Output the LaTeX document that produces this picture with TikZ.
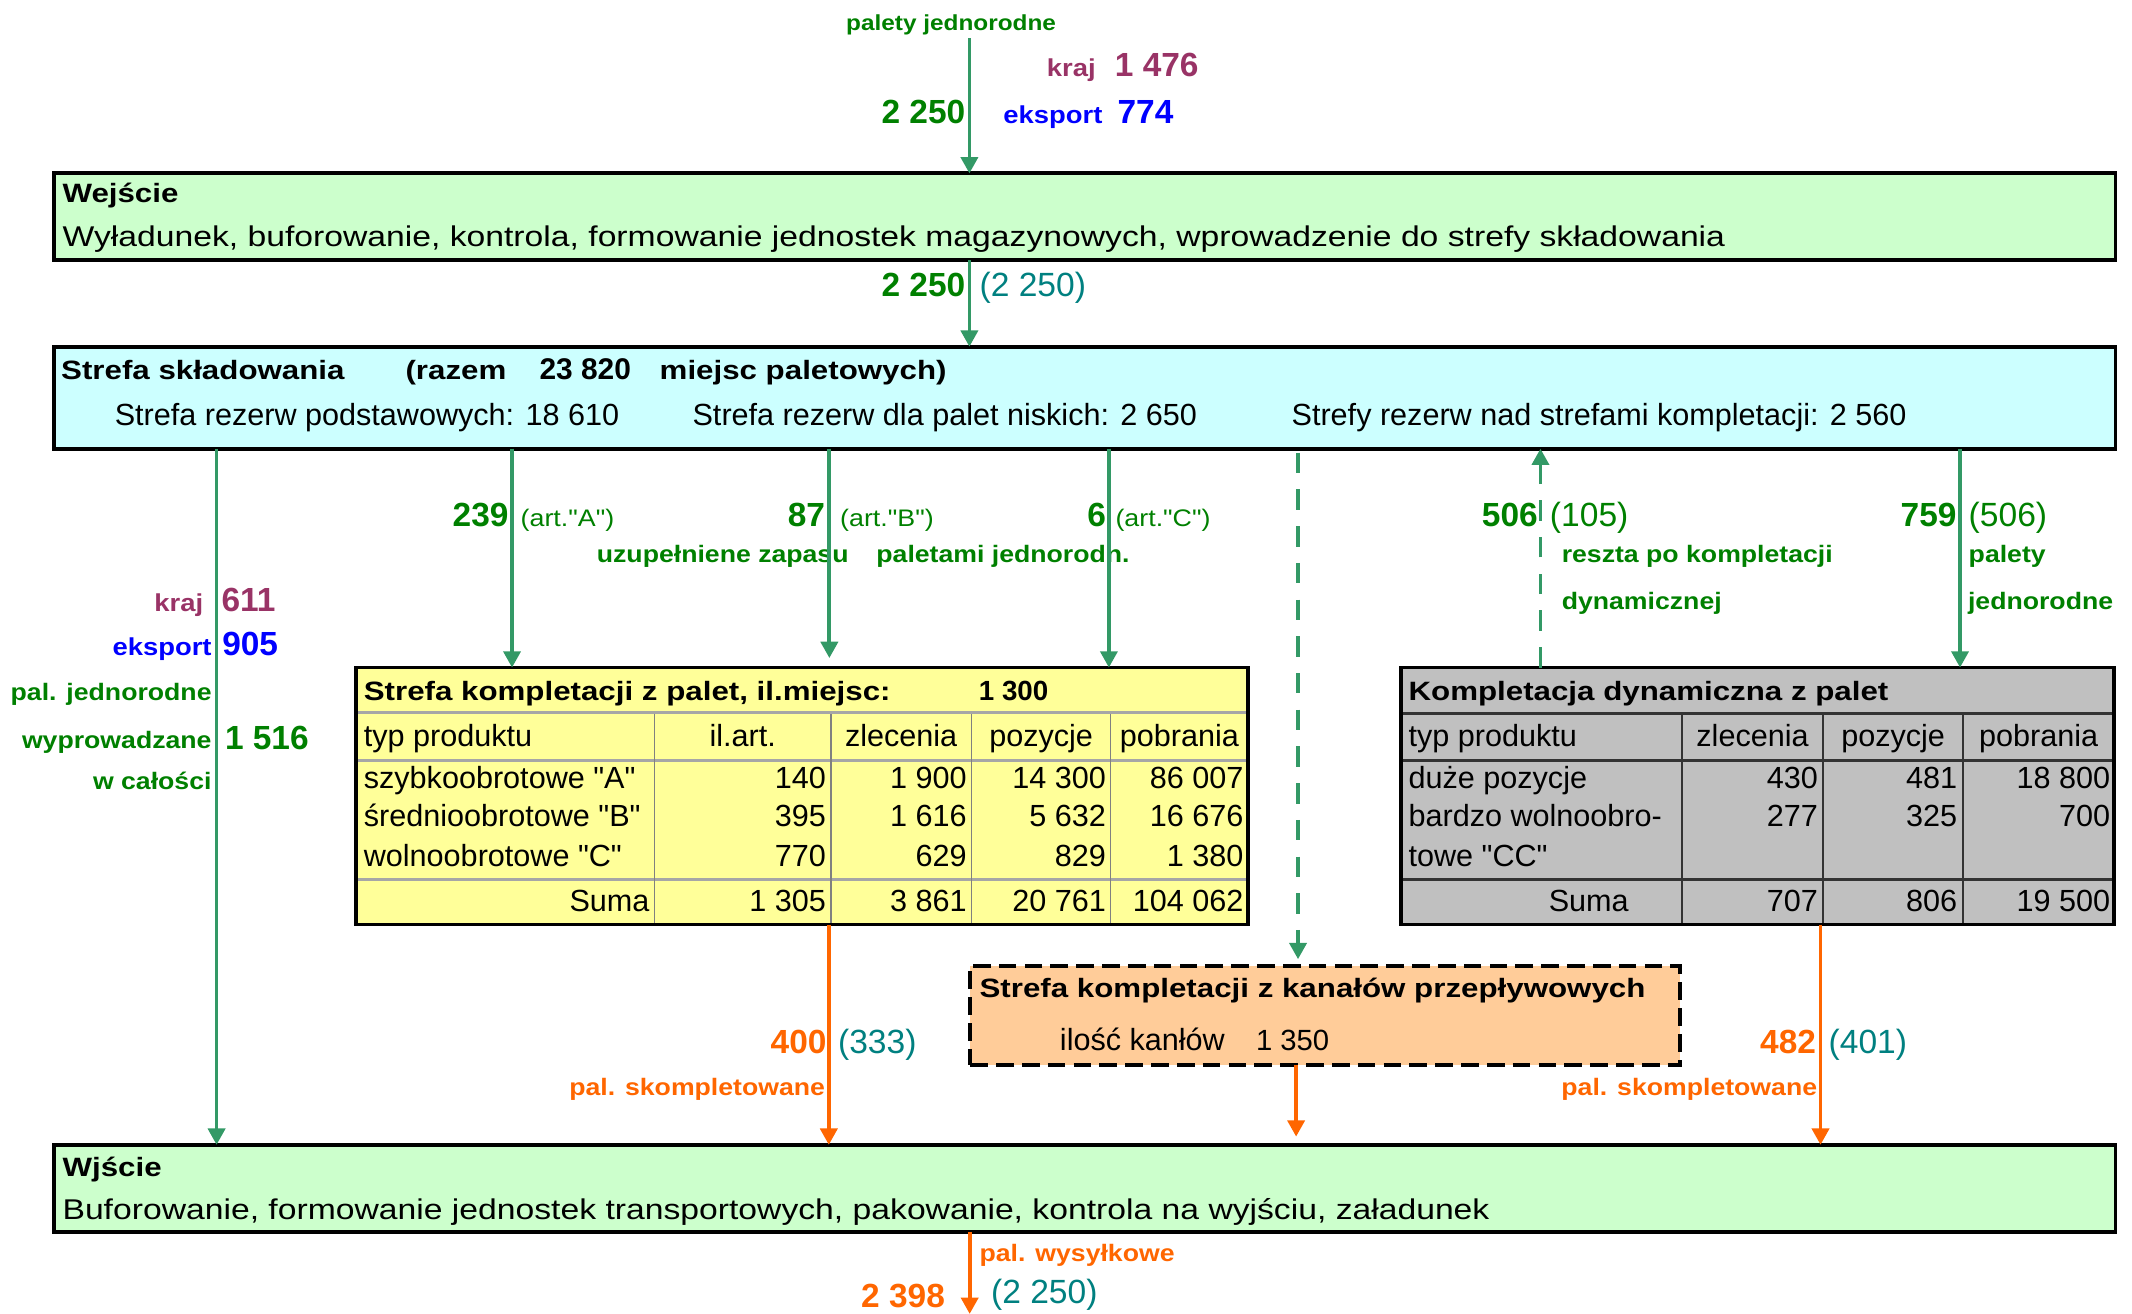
\documentclass[tikz,border=0pt]{standalone}
\usepackage{fontspec}
\setmainfont{Liberation Sans}[Ligatures=TeXOff]
\newfontfamily\stA{Liberation Sans}[FakeStretch=1.18,Ligatures=TeXOff]
\newfontfamily\stB{Liberation Sans}[FakeStretch=1.12,Ligatures=TeXOff]
\usetikzlibrary{arrows.meta}
\definecolor{tgreen}{HTML}{008000}
\definecolor{agreen}{HTML}{339966}
\definecolor{myMaroon}{HTML}{993366}
\definecolor{tblue}{HTML}{0000FF}
\definecolor{tteal}{HTML}{008080}
\definecolor{torange}{HTML}{FF6600}
\definecolor{fgreen}{HTML}{CCFFCC}
\definecolor{fcyan}{HTML}{CCFFFF}
\definecolor{fyellow}{HTML}{FFFF99}
\definecolor{fgray}{HTML}{C0C0C0}
\definecolor{fpeach}{HTML}{FFCC99}
\newcommand\fsTitle{\stA\bfseries\fontsize{19.5}{23}\selectfont}
\newcommand\fsBox{\stA\fontsize{21}{25}\selectfont}
\newcommand\fsReg{\fontsize{22.5}{27}\selectfont}
\newcommand\fsLab{\stB\bfseries\fontsize{17.5}{21}\selectfont}
\newcommand\fsLabTop{\stB\bfseries\fontsize{16}{19}\selectfont}
\newcommand\fsKE{\stB\bfseries\fontsize{18}{21}\selectfont}
\newcommand\fsNum{\bfseries\fontsize{24.6}{29}\selectfont}
\newcommand\fsPar{\fontsize{24.7}{29}\selectfont}
\newcommand\fsArt{\stB\fontsize{17.6}{21}\selectfont}
\newcommand\fsBnum{\bfseries\fontsize{20.4}{24}\selectfont}
\newcommand\fsBnumB{\bfseries\fontsize{22}{26}\selectfont}
\newcommand\fsRegS{\fontsize{21.5}{26}\selectfont}
\begin{document}
\begin{tikzpicture}[x=1pt,y=-1pt,
  t/.style={inner sep=0pt,outer sep=0pt},
  bw/.style={t,anchor=base west},
  be/.style={t,anchor=base east},
  bc/.style={t,anchor=base},
  box/.style={draw=black,line width=2.8pt,inner sep=0pt,outer sep=0pt,anchor=north west},
  garrow/.style={draw=agreen,line width=2.8pt,-{Triangle[length=12pt,width=12.5pt]}},
  oarrow/.style={draw=torange,line width=2.8pt,-{Triangle[length=12pt,width=12.5pt]}},
  gdash/.style={dash pattern=on 15pt off 12pt},
  tah/.style={draw=black!35,line width=2.4pt},
  tav/.style={draw=black!50,line width=1.2pt},
  tbh/.style={draw=black!80,line width=2.2pt},
  tbv/.style={draw=black!80,line width=1.6pt}]
\useasboundingbox (0,0) rectangle (1568.1,966.4);

% boxes
\node[box,fill=fgreen,minimum width=1516pt,minimum height=64pt] (wej) at (40,127.5) {};
\node[box,fill=fcyan,minimum width=1516pt,minimum height=75pt] (str) at (40,255) {};
\node[box,fill=fyellow,minimum width=656pt,minimum height=189pt] (tab1) at (262,491) {};
\node[box,fill=fgray,minimum width=524.7pt,minimum height=189pt] (tab2) at (1030.3,491) {};
\node[box,fill=fpeach,dash pattern=on 13pt off 6pt,minimum width=522.1pt,minimum height=72.8pt] (kan) at (713.6,710.5) {};
\node[box,fill=fgreen,minimum width=1516pt,minimum height=64pt] (wyj) at (40,842) {};

% table 1 grid
\draw[tah] (263.5,524) -- (916.5,524);
\draw[tah] (263.5,559.5) -- (916.5,559.5);
\draw[tah] (263.5,646.6) -- (916.5,646.6);
\foreach \xx in {481.5,611,714.6,816.9} \draw[tav] (\xx,525) -- (\xx,678.5);
% table 2 grid
\draw[tbh] (1031.7,524.6) -- (1553.6,524.6);
\draw[tbh] (1031.7,559) -- (1553.6,559);
\draw[tbh] (1031.7,646.6) -- (1553.6,646.6);
\foreach \xx in {1237.1,1341,1443.8} \draw[tbv] (\xx,525.6) -- (\xx,678.5);

% top texts
\node[bc,text=tgreen,font=\fsLabTop] (lPal) at (699.5,22.6) {palety jednorodne};
\node[bw,text=myMaroon,font=\fsKE] (lKraj1) at (770,56.5) {kraj};
\node[bw,text=myMaroon,font=\fsNum] (nKraj1) at (820,56.5) {1 476};
\node[be,text=tgreen,font=\fsNum] (nIn) at (710,91) {2 250};
\node[bw,text=tblue,font=\fsKE] (lEks1) at (738,90.7) {eksport};
\node[bw,text=tblue,font=\fsNum] (nEks1) at (822,90.7) {774};

% Wejscie
\node[bw,font=\fsTitle] (wejT) at (46,149) {Wejście};
\node[bw,font=\fsBox] (wejB) at (46,181.4) {Wyładunek, buforowanie, kontrola, formowanie jednostek magazynowych, wprowadzenie do strefy składowania};
\node[be,text=tgreen,font=\fsNum] (n2) at (710,218.2) {2 250};
\node[bw,text=tteal,font=\fsPar] (p2) at (720.5,218.2) {(2 250)};

% Strefa skladowania
\node[bw,font=\fsTitle] (strT1) at (45,278.8) {Strefa składowania};
\node[bw,font=\fsTitle] (strT2) at (298.3,278.8) {(razem};
\node[bw,font=\fsBnumB] (strT3) at (396.8,278.8) {23 820};
\node[bw,font=\fsTitle] (strT4) at (485.2,278.8) {miejsc paletowych)};
\node[bw,font=\fsReg] (strL1) at (84.4,312.6) {Strefa rezerw podstawowych: 18 610};
\node[bw,font=\fsReg] (strL2) at (509.4,312.6) {Strefa rezerw dla palet niskich: 2 650};
\node[bw,font=\fsReg] (strL3) at (950,312.6) {Strefy rezerw nad strefami kompletacji: 2 560};

% labels below Strefa
\node[be,text=tgreen,font=\fsNum] (nA) at (374,387.4) {239};
\node[bw,text=tgreen,font=\fsArt] (aA) at (383,387.4) {(art."A")};
\node[be,text=tgreen,font=\fsNum] (nB) at (606.8,387.4) {87};
\node[bw,text=tgreen,font=\fsArt] (aB) at (618,387.4) {(art."B")};
\node[be,text=tgreen,font=\fsNum] (nC) at (813.5,387.4) {6};
\node[bw,text=tgreen,font=\fsArt] (aC) at (820.5,387.4) {(art."C")};
\node[bw,text=tgreen,font=\fsLab] (lUzu) at (439,414) {uzupełniene zapasu\hspace{15pt} paletami jednorodn.};
\node[be,text=tgreen,font=\fsNum] (nR) at (1131,387.4) {506};
\node[bw,text=tgreen,font=\fsPar] (pR) at (1140,387.4) {(105)};
\node[bw,text=tgreen,font=\fsLab] (lR1) at (1148.7,414) {reszta po kompletacji};
\node[bw,text=tgreen,font=\fsLab] (lR2) at (1148.7,448) {dynamicznej};
\node[be,text=tgreen,font=\fsNum] (nP) at (1439,387.4) {759};
\node[bw,text=tgreen,font=\fsPar] (pP) at (1448,387.4) {(506)};
\node[bw,text=tgreen,font=\fsLab] (lP1) at (1448,414) {palety};
\node[bw,text=tgreen,font=\fsLab] (lP2) at (1447.5,448) {jednorodne};

% left labels
\node[be,text=myMaroon,font=\fsKE] (lKraj2) at (149.5,450) {kraj};
\node[bw,text=myMaroon,font=\fsNum] (nKraj2) at (163,450) {611};
\node[be,text=tblue,font=\fsKE] (lEks2) at (155.6,482) {eksport};
\node[bw,text=tblue,font=\fsNum] (nEks2) at (163.5,482) {905};
\node[be,text=tgreen,font=\fsLab] (lL1) at (155.6,515.4) {pal. jednorodne};
\node[be,text=tgreen,font=\fsLab] (lL2) at (155.6,550.4) {wyprowadzane};
\node[bw,text=tgreen,font=\fsNum] (nL) at (165.5,551) {1 516};
\node[be,text=tgreen,font=\fsLab] (lL3) at (155.6,581) {w całości};

% table 1 texts
\node[bw,font=\fsTitle] (t1T) at (267.6,514.9) {Strefa kompletacji z palet, il.miejsc:};
\node[bw,font=\fsBnum] (t1N) at (720,514.9) {1 300};
\node[bw,font=\fsReg] (t1h1) at (267.6,549) {typ produktu};
\node[bc,font=\fsReg] (t1h2) at (546.25,549) {il.art.};
\node[bc,font=\fsReg] (t1h3) at (662.8,549) {zlecenia};
\node[bc,font=\fsReg] (t1h4) at (765.75,549) {pozycje};
\node[bc,font=\fsReg] (t1h5) at (867.45,549) {pobrania};
\node[bw,font=\fsReg] (t1a1) at (267.6,579.8) {szybkoobrotowe "A"};
\node[be,font=\fsReg] (t1a2) at (607.5,579.8) {140};
\node[be,font=\fsReg] (t1a3) at (711,579.8) {1 900};
\node[be,font=\fsReg] (t1a4) at (813.4,579.8) {14 300};
\node[be,font=\fsReg] (t1a5) at (914.5,579.8) {86 007};
\node[bw,font=\fsReg] (t1b1) at (267.6,608) {średnioobrotowe "B"};
\node[be,font=\fsReg] (t1b2) at (607.5,608) {395};
\node[be,font=\fsReg] (t1b3) at (711,608) {1 616};
\node[be,font=\fsReg] (t1b4) at (813.4,608) {5 632};
\node[be,font=\fsReg] (t1b5) at (914.5,608) {16 676};
\node[bw,font=\fsReg] (t1c1) at (267.6,637.5) {wolnoobrotowe "C"};
\node[be,font=\fsReg] (t1c2) at (607.5,637.5) {770};
\node[be,font=\fsReg] (t1c3) at (711,637.5) {629};
\node[be,font=\fsReg] (t1c4) at (813.4,637.5) {829};
\node[be,font=\fsReg] (t1c5) at (914.5,637.5) {1 380};
\node[be,font=\fsReg] (t1s1) at (477.7,670.5) {Suma};
\node[be,font=\fsReg] (t1s2) at (607.5,670.5) {1 305};
\node[be,font=\fsReg] (t1s3) at (711,670.5) {3 861};
\node[be,font=\fsReg] (t1s4) at (813.4,670.5) {20 761};
\node[be,font=\fsReg] (t1s5) at (914.5,670.5) {104 062};

% table 2 texts
\node[bw,font=\fsTitle] (t2T) at (1036,514.9) {Kompletacja dynamiczna z palet};
\node[bw,font=\fsReg] (t2h1) at (1036,549) {typ produktu};
\node[bc,font=\fsReg] (t2h2) at (1289,549) {zlecenia};
\node[bc,font=\fsReg] (t2h3) at (1392.4,549) {pozycje};
\node[bc,font=\fsReg] (t2h4) at (1499.4,549) {pobrania};
\node[bw,font=\fsReg] (t2a1) at (1036,579.8) {duże pozycje};
\node[be,font=\fsReg] (t2a2) at (1337,579.8) {430};
\node[be,font=\fsReg] (t2a3) at (1439.5,579.8) {481};
\node[be,font=\fsReg] (t2a4) at (1552,579.8) {18 800};
\node[bw,font=\fsReg] (t2b1) at (1036,608) {bardzo wolnoobro-};
\node[be,font=\fsReg] (t2b2) at (1337,608) {277};
\node[be,font=\fsReg] (t2b3) at (1439.5,608) {325};
\node[be,font=\fsReg] (t2b4) at (1552,608) {700};
\node[bw,font=\fsReg] (t2c1) at (1036,637.5) {towe "CC"};
\node[bc,font=\fsReg] (t2s1) at (1168.5,670.5) {Suma};
\node[be,font=\fsReg] (t2s2) at (1337,670.5) {707};
\node[be,font=\fsReg] (t2s3) at (1439.5,670.5) {806};
\node[be,font=\fsReg] (t2s4) at (1552,670.5) {19 500};

% kanaly
\node[bw,font=\fsTitle] (kT) at (720.5,734) {Strefa kompletacji z kanałów przepływowych};
\node[bw,font=\fsReg] (kL) at (779.6,772.3) {ilość kanłów};
\node[bw,font=\fsRegS] (kN) at (923.8,772.3) {1 350};

% orange labels
\node[be,text=torange,font=\fsNum] (o1n) at (607.9,775.2) {400};
\node[bw,text=tteal,font=\fsPar] (o1p) at (616.4,775.2) {(333)};
\node[be,text=torange,font=\fsLab] (o1l) at (606.8,805.4) {pal. skompletowane};
\node[be,text=torange,font=\fsNum] (o2n) at (1335.7,775) {482};
\node[bw,text=tteal,font=\fsPar] (o2p) at (1345,775) {(401)};
\node[be,text=torange,font=\fsLab] (o2l) at (1336.5,805.4) {pal. skompletowane};

% Wyjscie
\node[bw,font=\fsTitle] (wyjT) at (46,865) {Wjście};
\node[bw,font=\fsBox] (wyjB) at (46,897.3) {Buforowanie, formowanie jednostek transportowych, pakowanie, kontrola na wyjściu, załadunek};
\node[bw,text=torange,font=\fsLab] (lOut) at (720.5,928) {pal. wysyłkowe};
\node[be,text=torange,font=\fsNum] (nOut) at (695,962) {2 398};
\node[bw,text=tteal,font=\fsPar] (pOut) at (729,958.6) {(2 250)};

% connector x positions
\coordinate (xin) at (713,0);
\coordinate (xL) at (159.3,0);
\coordinate (xA) at (376.6,0);
\coordinate (xB) at (610,0);
\coordinate (xC) at (815.6,0);
\coordinate (xD) at (954.7,0);
\coordinate (xE) at (1133,0);
\coordinate (xF) at (1441.6,0);
\coordinate (xO1) at (609.6,0);
\coordinate (xO2) at (953.3,0);
\coordinate (xO3) at (1339,0);
\coordinate (xout) at (713.2,0);
\coordinate (topst) at (713,28);
\coordinate (botend) at (713.2,966.4);

% connectors
\draw[garrow] (topst) -- (wej.north -| xin);
\draw[garrow] (wej.south -| xin) -- (str.north -| xin);
\draw[garrow] (str.south -| xL) -- (wyj.north -| xL);
\draw[garrow] (str.south -| xA) -- (tab1.north -| xA);
\draw[garrow,shorten >=7pt] (str.south -| xB) -- (tab1.north -| xB);
\draw[garrow] (str.south -| xC) -- (tab1.north -| xC);
\draw[garrow,gdash,shorten <=3pt,shorten >=5pt] (str.south -| xD) -- (kan.north -| xD);
\draw[garrow,gdash] (tab2.north -| xE) -- (str.south -| xE);
\draw[garrow] (str.south -| xF) -- (tab2.north -| xF);
\draw[oarrow] (tab1.south -| xO1) -- (wyj.north -| xO1);
\draw[oarrow,shorten >=6pt] (kan.south -| xO2) -- (wyj.north -| xO2);
\draw[oarrow] (tab2.south -| xO3) -- (wyj.north -| xO3);
\draw[oarrow] (wyj.south -| xout) -- (botend);
\end{tikzpicture}
\end{document}
